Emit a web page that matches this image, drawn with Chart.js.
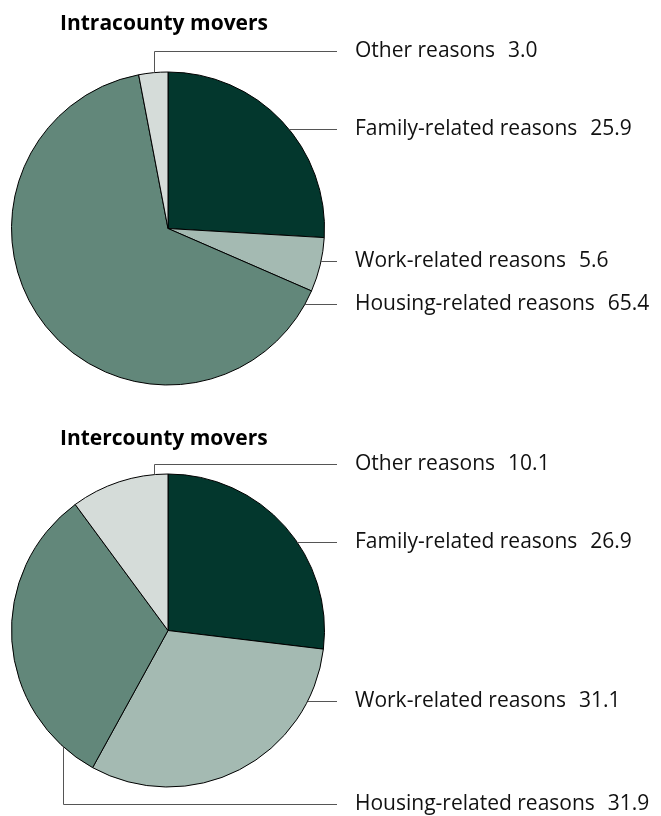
<!DOCTYPE html>
<html lang="en">
  <head>
    <meta charset="UTF-8" />
    <title>Reasons for moving</title>
    <script src="https://cdn.jsdelivr.net/npm/chart.js"></script>
    <style>
      body { margin: 0; background: #fff; }
      .wrap { position: relative; width: 661px; height: 816px; }
      canvas { position: absolute; left: 0; }
      #intraChart { top: 0; }
      #interChart { top: 408px; }
    </style>
  </head>
  <body>
    <div class="wrap">
      <canvas id="intraChart" width="661" height="408"></canvas>
      <canvas id="interChart" width="661" height="408"></canvas>
    </div>

    <script>
      // Data
      const categories = ["Family-related reasons", "Work-related reasons", "Housing-related reasons", "Other reasons"];
      const intracountyValues = [25.9, 5.6, 65.4, 3.0];
      const intercountyValues = [26.9, 31.1, 31.9, 10.1];
      const titles = ["Intracounty movers", "Intercounty movers"];

      const colors = ["#03372d", "#a4bab2", "#62877a", "#d5dcd9"];
      const labelFont = '21px "Open Sans"';
      const titleFont = 'bold 21px "Open Sans"';

      // leader layout: y of the horizontal leader, optional x of a vertical elbow
      const intraLeaders = [
        { y: 129 }, { y: 261 }, { y: 304 }, { y: 51, elbowX: 154, up: true },
      ];
      const interLeaders = [
        { y: 134 }, { y: 293 }, { y: 396, elbowX: 63, up: false }, { y: 56, elbowX: 154, up: true },
      ];

      const leaderPlugin = {
        id: "leaders",
        afterDraw(chart, args, opts) {
          const ctx = chart.ctx;
          const arc = chart.getDatasetMeta(0).data[0];
          const cx = arc.x, cy = arc.y, r = arc.outerRadius;
          const values = chart.data.datasets[0].data;
          ctx.save();
          // title
          ctx.fillStyle = "#000";
          ctx.font = titleFont;
          ctx.textBaseline = "alphabetic";
          ctx.fillText(opts.title, 60, opts.titleY);

          ctx.strokeStyle = "#555";
          ctx.lineWidth = 1;
          opts.leaders.forEach((ld, i) => {
            ctx.beginPath();
            if (ld.elbowX !== undefined) {
              const dy = Math.sqrt(r * r - (ld.elbowX - cx) * (ld.elbowX - cx));
              const yEdge = ld.up ? cy - dy : cy + dy;
              ctx.moveTo(ld.elbowX + 0.5, yEdge);
              ctx.lineTo(ld.elbowX + 0.5, ld.y + 0.5);
              ctx.lineTo(337, ld.y + 0.5);
            } else {
              const dx = Math.sqrt(Math.max(r * r - (ld.y - cy) * (ld.y - cy), 0));
              ctx.moveTo(cx + dx, ld.y + 0.5);
              ctx.lineTo(337, ld.y + 0.5);
            }
            ctx.stroke();
            ctx.font = labelFont;
            ctx.fillStyle = "#111";
            const txt = chart.data.labels[i];
            ctx.fillText(txt, 355, ld.y + 6);
            const w = ctx.measureText(txt).width;
            ctx.fillText(values[i].toFixed(1), 355 + w + 13, ld.y + 6);
          });
          ctx.restore();
        },
      };

      function makePie(id, values, title, titleY, leaders, padBottom, padTop) {
        return new Chart(document.getElementById(id), {
          type: "pie",
          data: {
            labels: categories,
            datasets: [
              {
                data: values,
                backgroundColor: colors,
                borderColor: "#000",
                borderWidth: 1,
              },
            ],
          },
          options: {
            responsive: false,
            animation: false,
            layout: { padding: { left: 11, right: 336, top: padTop, bottom: padBottom } },
            plugins: {
              legend: { display: false },
              tooltip: { enabled: false },
              leaders: { title: title, titleY: titleY, leaders: leaders },
            },
          },
          plugins: [leaderPlugin],
        });
      }

      makePie("intraChart", intracountyValues, titles[0], 30, intraLeaders, 22.5, 71.5);
      makePie("interChart", intercountyValues, titles[1], 37, interLeaders, 28.5, 65.5);
    </script>
  </body>
</html>
